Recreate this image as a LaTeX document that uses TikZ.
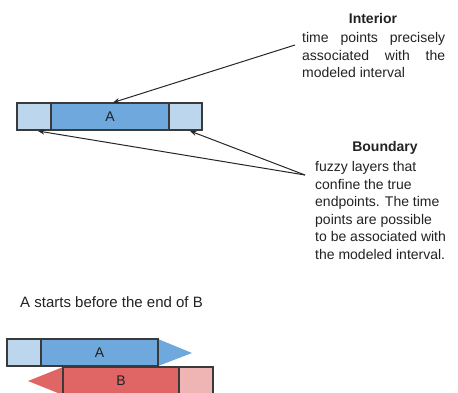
\documentclass[tikz,border=0pt]{standalone}
\usepackage{fontspec}
\setmainfont{Liberation Sans}
\usetikzlibrary{arrows.meta}
\definecolor{midblue}{HTML}{6FA8DC}
\definecolor{lightblue}{HTML}{BCD6EE}
\definecolor{midred}{HTML}{E06666}
\definecolor{lightred}{HTML}{EFB4B4}
\definecolor{edge}{HTML}{3A3A3A}
\definecolor{txt}{HTML}{222222}
\begin{document}
\begin{tikzpicture}[x=1pt,y=-1pt,
  seg/.style={draw=edge, line width=1.2pt, inner sep=0pt, outer sep=0pt, minimum height=27pt, font=\fontsize{14}{16}\selectfont, text=txt},
  pointer/.style={draw=black!85, line width=1pt, -{Stealth[length=6.5pt,width=5pt]}},
  body/.style={font=\fontsize{14}{17.5}\selectfont, text=txt, inner sep=0pt, align=left, anchor=north west},
  heading/.style={font=\fontsize{14}{17.5}\selectfont\bfseries, text=txt, inner sep=0pt}
]
\useasboundingbox (0,0) rectangle (458,392);
\clip (0,0) rectangle (458,392);

% top bar
\node[seg, fill=lightblue, minimum width=34pt] (tl) at (34,116.5) {};
\node[seg, fill=midblue, minimum width=118pt] (tm) at (110,116.5) {A};
\node[seg, fill=lightblue, minimum width=33pt] (tr) at (185.5,116.5) {};

% interior text
\node[heading] (inth) at (373,18) {Interior};
\node[body] (intb) at (302,32.5) {\hbox to 143pt{time\hfill points\hfill precisely}\\
\hbox to 143pt{associated\hfill with\hfill the}\\
modeled interval};

% boundary text
\node[heading] (bndh) at (385,148) {Boundary};
\node[body] (bndb) at (315,161.5) {fuzzy layers that\\
confine the true\\
endpoints. The time\\
points are possible\\
to be associated with\\
the modeled interval.};

% arrows
\coordinate (ia) at (295,45);
\coordinate (ib) at (113,102.5);
\draw[pointer] (ia) -- (ib);
\coordinate (ba) at (305,175);
\coordinate (bl) at (38,131);
\coordinate (br) at (190,131);
\draw[pointer] (ba) -- (bl);
\draw[pointer] (ba) -- (br);

% caption
\node[font=\fontsize{15}{18}\selectfont, text=txt, inner sep=0pt, anchor=west] (cap) at (20,302) {A starts before the end of B};

% bottom A
\fill[midblue] (158,339) -- (192,353) -- (158,366) -- cycle;
\node[seg, fill=lightblue, minimum width=34pt] (al) at (24,352.5) {};
\node[seg, fill=midblue, minimum width=117pt] (am) at (99.5,352.5) {A};

% bottom B
\fill[midred] (63,367) -- (28,381) -- (63,395) -- cycle;
\node[seg, fill=midred, minimum width=116pt, minimum height=28pt] (bm) at (121,381) {B};
\node[seg, fill=lightred, minimum width=34pt, minimum height=28pt] (br2) at (196,381) {};
\end{tikzpicture}
\end{document}
